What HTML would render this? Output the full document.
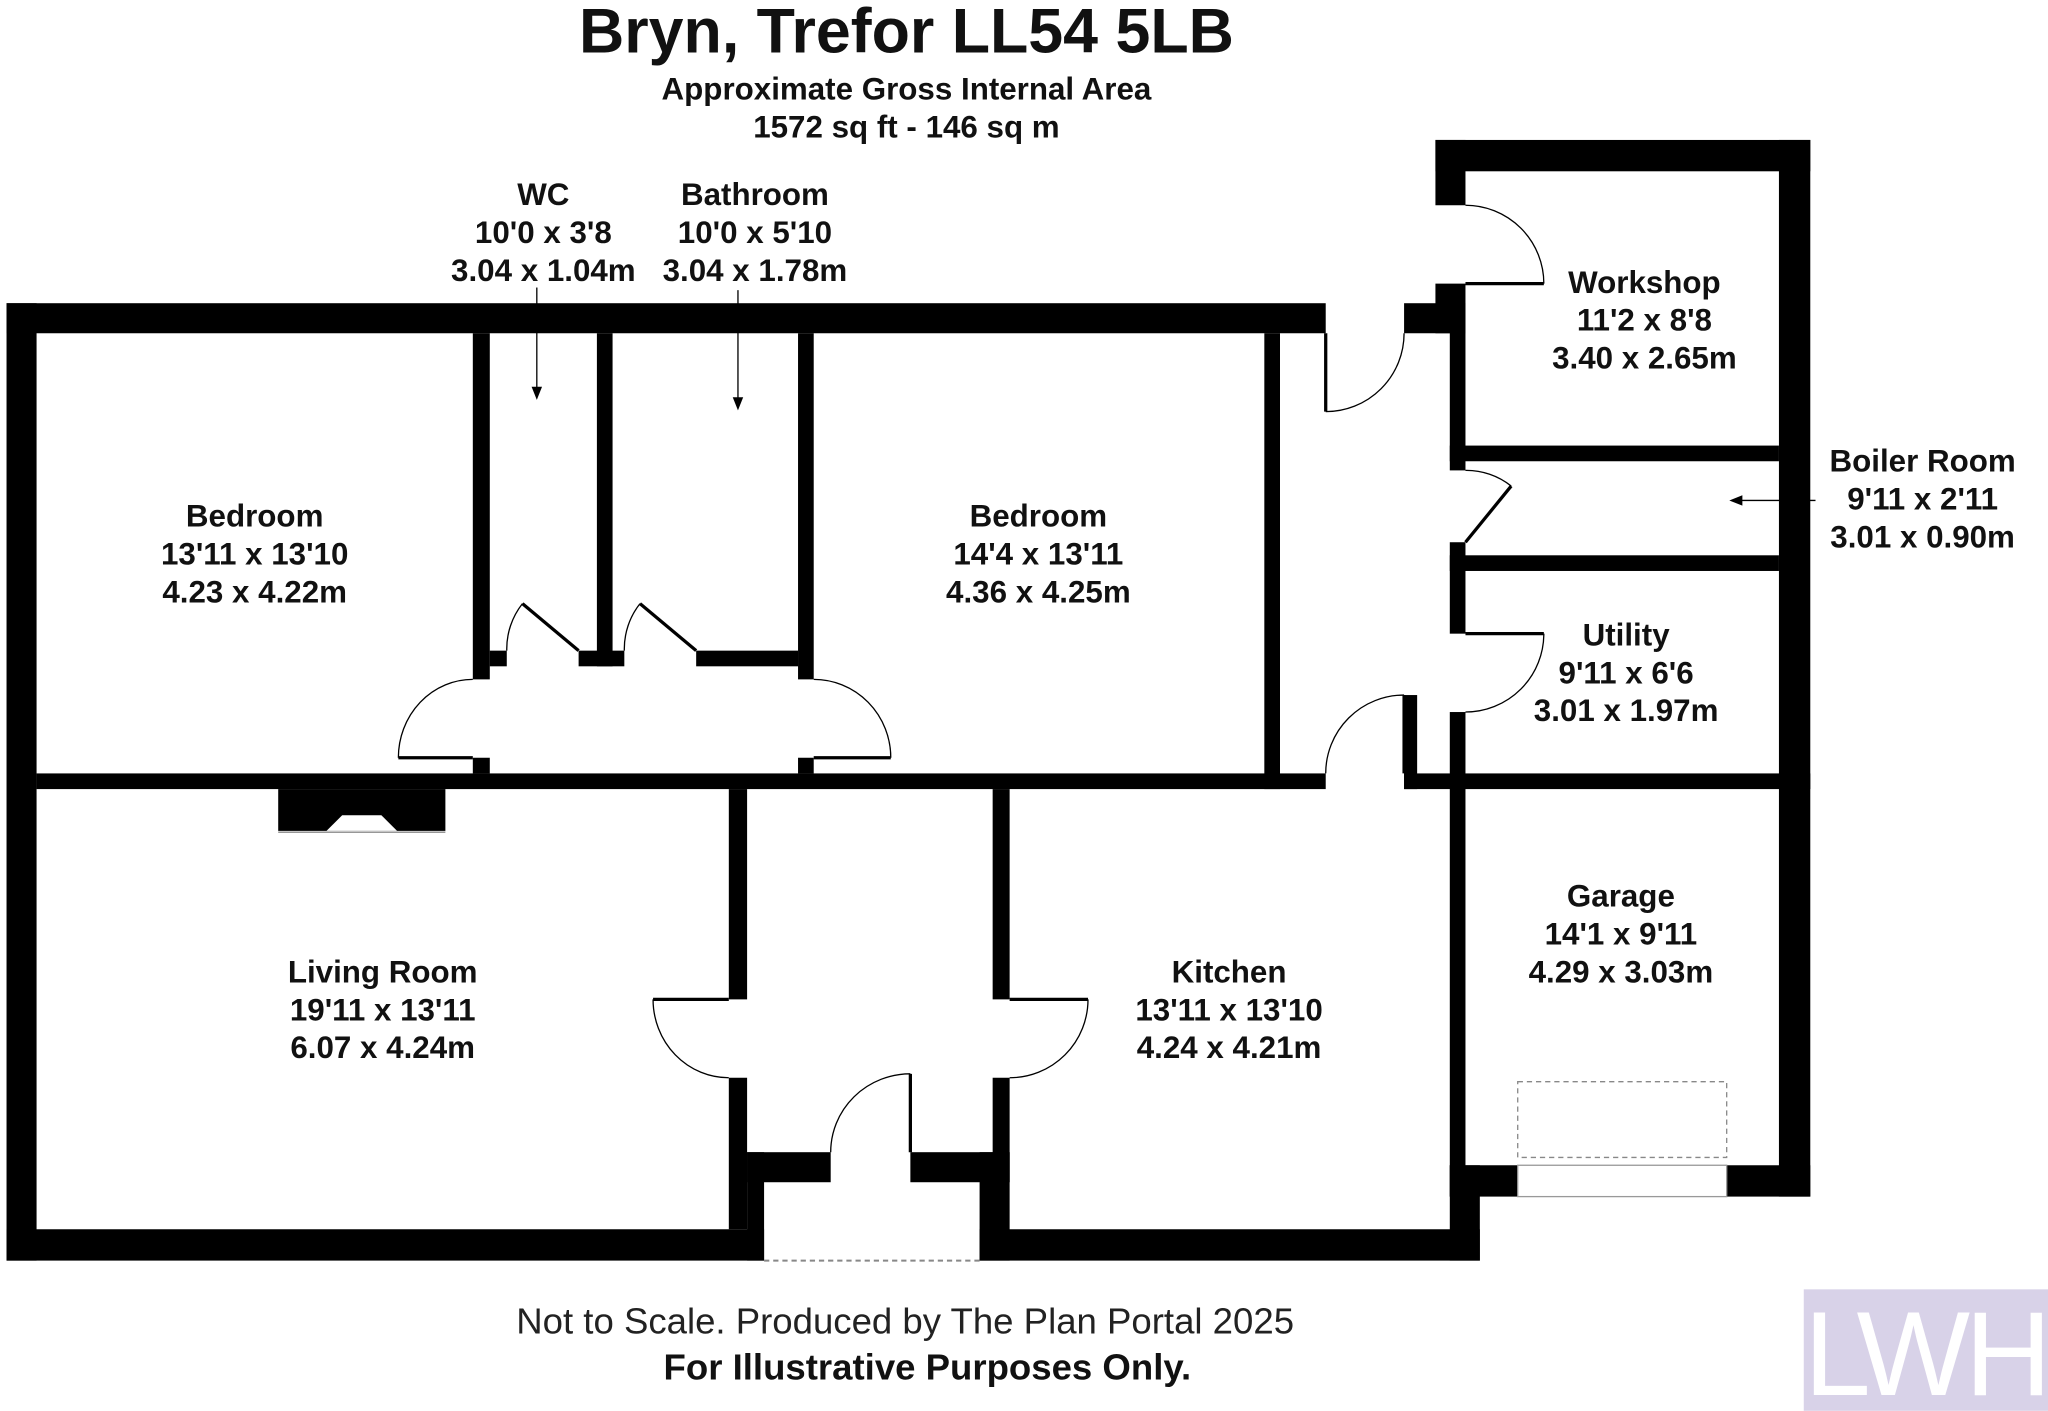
<!DOCTYPE html>
<html><head><meta charset="utf-8"><style>
html,body{margin:0;padding:0;background:#fff;}
svg{display:block;}
text{font-family:"Liberation Sans",Arial,sans-serif;}
.b{font-weight:bold;font-size:24px;text-anchor:middle;fill:#111;}
</style></head><body>
<svg width="2048" height="1411" viewBox="0 0 1568 1080" xmlns="http://www.w3.org/2000/svg">
<rect width="1568" height="1080" fill="#fff"/>
<text x="694" y="40" text-anchor="middle" font-weight="bold" font-size="48" fill="#111">Bryn, Trefor LL54 5LB</text>
<text x="694" y="76" text-anchor="middle" font-weight="bold" font-size="24" fill="#111">Approximate Gross Internal Area</text>
<text x="694" y="105" text-anchor="middle" font-weight="bold" font-size="24" fill="#111">1572 sq ft - 146 sq m</text>
<g fill="#000">
<rect x="5" y="232" width="1010" height="23"/>
<rect x="5" y="232" width="23" height="733"/>
<rect x="5" y="941" width="580" height="24"/>
<rect x="572" y="882" width="13" height="83"/>
<rect x="572" y="882" width="64" height="23"/>
<rect x="697" y="882" width="76" height="23"/>
<rect x="750" y="882" width="23" height="83"/>
<rect x="750" y="941" width="383" height="24"/>
<rect x="1110" y="892" width="23" height="73"/>
<rect x="1110" y="892" width="52" height="24"/>
<rect x="1322" y="892" width="64" height="24"/>
<rect x="1362" y="107" width="24" height="809"/>
<rect x="1099" y="107" width="287" height="24"/>
<rect x="1099" y="107" width="23" height="50"/>
<rect x="1099" y="217" width="23" height="38"/>
<rect x="1075" y="232" width="47" height="23"/>
<rect x="1110" y="232" width="12" height="128"/>
<rect x="1110" y="415" width="12" height="70"/>
<rect x="1110" y="545" width="12" height="371"/>
<rect x="1110" y="341" width="252" height="12"/>
<rect x="1110" y="425" width="252" height="12"/>
<rect x="1075" y="592" width="311" height="12"/>
<rect x="1075" y="532" width="10" height="72"/>
<rect x="968" y="255" width="12" height="349"/>
<rect x="28" y="592" width="987" height="12"/>
<rect x="760" y="604" width="13" height="161"/>
<rect x="760" y="825" width="13" height="80"/>
<rect x="558" y="604" width="14" height="161"/>
<rect x="558" y="825" width="14" height="116"/>
<rect x="362" y="255" width="13" height="265"/>
<rect x="362" y="580" width="13" height="12"/>
<rect x="457" y="255" width="12" height="255"/>
<rect x="611" y="255" width="12" height="265"/>
<rect x="611" y="580" width="12" height="12"/>
<rect x="375" y="498" width="13" height="12"/>
<rect x="443" y="498" width="35" height="12"/>
<rect x="533" y="498" width="78" height="12"/>
<rect x="213" y="604" width="128" height="32"/>
</g>
<polygon points="250,636 262,624 292,624 304,636" fill="#fff"/>
<line x1="213" y1="637" x2="341" y2="637" stroke="#888" stroke-width="1"/>
<rect x="1162" y="892" width="160" height="24" fill="#fff" stroke="#999" stroke-width="1"/>
<line x1="585" y1="965" x2="750" y2="965" stroke="#888" stroke-width="1.5" stroke-dasharray="4,3"/>
<rect x="1162" y="828" width="160" height="58" fill="none" stroke="#888" stroke-width="1" stroke-dasharray="4,3"/>
<g fill="none" stroke="#000">
<g stroke-width="2.5">
<line x1="400" y1="462" x2="443" y2="498"/>
<line x1="490" y1="462" x2="533" y2="498"/>
<line x1="362" y1="580" x2="305" y2="580"/>
<line x1="623" y1="580" x2="682" y2="580"/>
<line x1="1122" y1="217" x2="1182" y2="217"/>
<line x1="1015" y1="255" x2="1015" y2="315"/>
<line x1="1122" y1="415" x2="1157" y2="372"/>
<line x1="1122" y1="485" x2="1182" y2="485"/>
<line x1="558" y1="765" x2="500" y2="765"/>
<line x1="773" y1="765" x2="833" y2="765"/>
<line x1="697" y1="882" x2="697" y2="822"/>
<line x1="1075" y1="592" x2="1075" y2="532"/>
</g>
<g stroke-width="1">
<path d="M388,498 A56,56 0 0 1 400,462"/>
<path d="M478,498 A56,56 0 0 1 490,462"/>
<path d="M305,580 A57,60 0 0 1 362,520"/>
<path d="M682,580 A59,60 0 0 0 623,520"/>
<path d="M1122,157 A60,60 0 0 1 1182,217"/>
<path d="M1015,315 A60,60 0 0 0 1075,255"/>
<path d="M1157,372 A55,55 0 0 0 1122,360"/>
<path d="M1182,485 A60,60 0 0 1 1122,545"/>
<path d="M1075,532 A60,60 0 0 0 1015,592"/>
<path d="M500,765 A58,60 0 0 0 558,825"/>
<path d="M833,765 A60,60 0 0 1 773,825"/>
<path d="M697,822 A61,60 0 0 0 636,882"/>
<line x1="411" y1="220" x2="411" y2="300"/>
<line x1="565" y1="222" x2="565" y2="308"/>
<line x1="1390" y1="383" x2="1332" y2="383"/>
</g>
</g>
<g fill="#000">
<polygon points="407,296 415,296 411,306"/>
<polygon points="561,304 569,304 565,314"/>
<polygon points="1334,379 1334,387 1324,383"/>
</g>
<g>
<text class="b" x="416" y="157">WC</text>
<text class="b" x="416" y="186">10'0 x 3'8</text>
<text class="b" x="416" y="215">3.04 x 1.04m</text>
<text class="b" x="578" y="157">Bathroom</text>
<text class="b" x="578" y="186">10'0 x 5'10</text>
<text class="b" x="578" y="215">3.04 x 1.78m</text>
<text class="b" x="195" y="403">Bedroom</text>
<text class="b" x="195" y="432">13'11 x 13'10</text>
<text class="b" x="195" y="461">4.23 x 4.22m</text>
<text class="b" x="795" y="403">Bedroom</text>
<text class="b" x="795" y="432">14'4 x 13'11</text>
<text class="b" x="795" y="461">4.36 x 4.25m</text>
<text class="b" x="1259" y="224">Workshop</text>
<text class="b" x="1259" y="253">11'2 x 8'8</text>
<text class="b" x="1259" y="282">3.40 x 2.65m</text>
<text class="b" x="1472" y="361">Boiler Room</text>
<text class="b" x="1472" y="390">9'11 x 2'11</text>
<text class="b" x="1472" y="419">3.01 x 0.90m</text>
<text class="b" x="1245" y="494">Utility</text>
<text class="b" x="1245" y="523">9'11 x 6'6</text>
<text class="b" x="1245" y="552">3.01 x 1.97m</text>
<text class="b" x="293" y="752">Living Room</text>
<text class="b" x="293" y="781">19'11 x 13'11</text>
<text class="b" x="293" y="810">6.07 x 4.24m</text>
<text class="b" x="941" y="752">Kitchen</text>
<text class="b" x="941" y="781">13'11 x 13'10</text>
<text class="b" x="941" y="810">4.24 x 4.21m</text>
<text class="b" x="1241" y="694">Garage</text>
<text class="b" x="1241" y="723">14'1 x 9'11</text>
<text class="b" x="1241" y="752">4.29 x 3.03m</text>
</g>
<text x="693" y="1021" text-anchor="middle" font-size="28" fill="#222">Not to Scale. Produced by The Plan Portal 2025</text>
<text x="710" y="1056" text-anchor="middle" font-size="28" font-weight="bold" fill="#111">For Illustrative Purposes Only.</text>
<rect x="1381" y="987" width="187" height="93" fill="#d8d2e8"/>
<text x="1474" y="1068" text-anchor="middle" font-size="92" fill="#fff" letter-spacing="-4">LWH</text>
</svg>
</body></html>
